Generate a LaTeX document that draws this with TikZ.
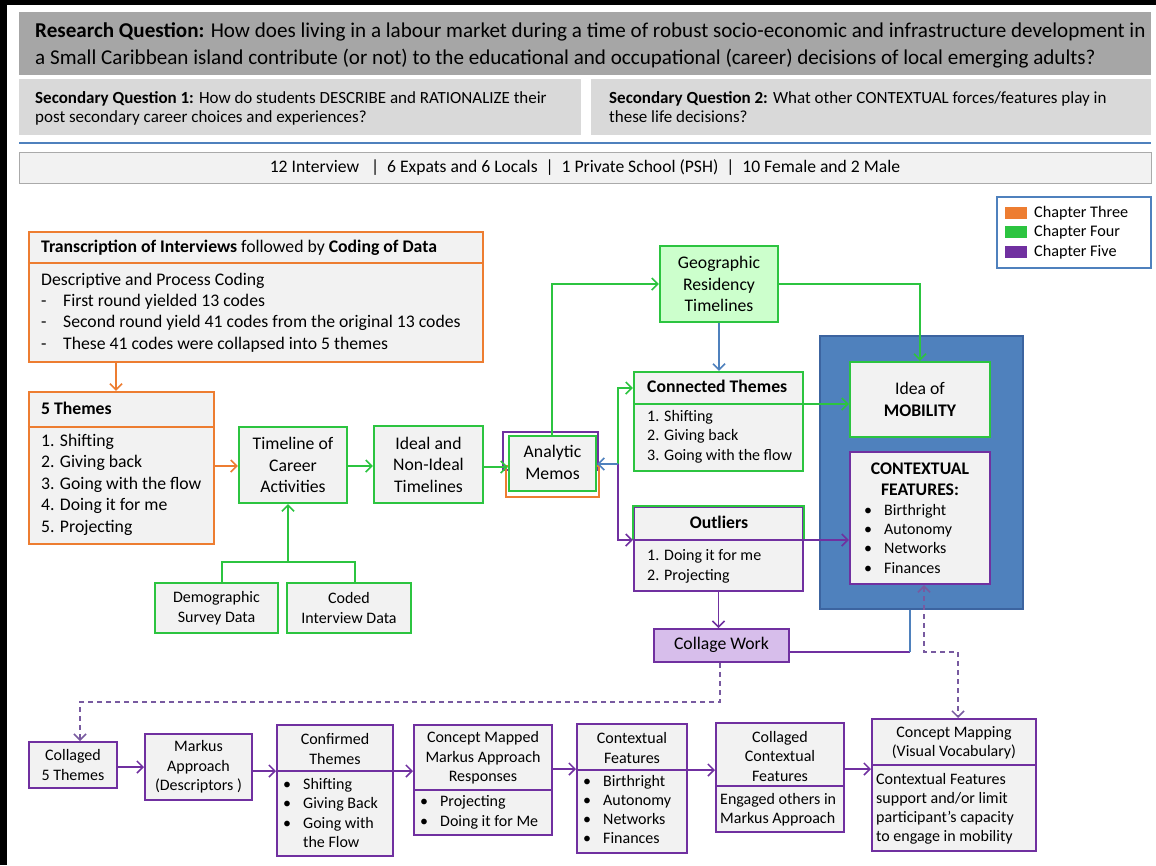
\documentclass[tikz,border=0pt]{standalone}
\usepackage{fontspec}
\setmainfont{Carlito}
\usetikzlibrary{arrows.meta,fit}

\definecolor{orangeC}{RGB}{237,125,49}
\definecolor{greenC}{RGB}{44,196,64}
\definecolor{purpleC}{RGB}{112,48,160}
\definecolor{mobBlue}{RGB}{79,129,189}
\definecolor{mobEdge}{RGB}{60,100,160}
\definecolor{lineBlue}{RGB}{79,129,189}
\definecolor{paleGrey}{RGB}{242,242,242}
\definecolor{rqGrey}{RGB}{166,166,166}
\definecolor{sqGrey}{RGB}{217,217,217}
\definecolor{statEdge}{RGB}{170,170,170}
\definecolor{paleGreen}{RGB}{204,255,204}
\definecolor{paleViolet}{RGB}{215,190,235}
\definecolor{dashViolet}{RGB}{120,90,160}

\newcommand\fsRQ{\fontsize{21.1}{27}\selectfont}
\newcommand\fsSQ{\fontsize{17}{19}\selectfont}
\newcommand\fsStat{\fontsize{17.6}{20}\selectfont}
\newcommand\fsBig{\fontsize{17.7}{21.5}\selectfont}
\newcommand\fsMid{\fontsize{16}{19.5}\selectfont}
\newcommand\fsLeg{\fontsize{16.2}{19}\selectfont}

\begin{document}
\begin{tikzpicture}[x=1pt,y=-1pt,
  box/.style={draw, line width=2.4pt, fill=paleGrey, inner sep=0pt},
  ch3/.style={box, draw=orangeC},
  ch4/.style={box, draw=greenC},
  ch5/.style={box, draw=purpleC, line width=2pt},
  band/.style={inner sep=0pt},
  ln/.style={anchor=west, inner sep=0pt, text height=0.9em, text depth=0.1em},
  cn/.style={ln, anchor=center},
  hd/.style={anchor=center, inner sep=0pt, align=center},
  link/.style={line width=1.5pt},
  arrowed/.style={-{Straight Barb[length=6pt,width=12pt]}},
  olink/.style={link, arrowed, draw=orangeC},
  glink/.style={link, arrowed, draw=greenC},
  plink/.style={link, arrowed, draw=purpleC},
  blink/.style={link, arrowed, draw=lineBlue},
  dlink/.style={link, draw=dashViolet, dash pattern=on 5pt off 4pt}
]
\useasboundingbox (0,0) rectangle (1156,865);
\fill[white] (0,0) rectangle (1156,865);
\fill[black] (0,0) rectangle (1156,5);
\fill[black] (0,0) rectangle (7,865);

% ---------- questions and sample ----------
\node[band, fill=rqGrey, fit={(19,12) (1151,75)}] (rq) {};
\node[ln, font=\fsRQ] (rq1) at (35,33) {\textbf{Research Question:} How does living in a labour market during a time of robust socio-economic and infrastructure development in};
\node[ln, font=\fsRQ] (rq2) at (35,60) {a Small Caribbean island contribute (or not) to the educational and occupational (career) decisions of local emerging adults?};

\node[band, fill=sqGrey, fit={(19,79) (581,135)}] (sq1) {};
\node[ln, font=\fsSQ] (sq1a) at (35,99) {\textbf{Secondary Question 1:} How do students DESCRIBE and RATIONALIZE their};
\node[ln, font=\fsSQ] (sq1b) at (35,118) {post secondary career choices and experiences?};

\node[band, fill=sqGrey, fit={(591,79) (1151,135)}] (sq2) {};
\node[ln, font=\fsSQ] (sq2a) at (609,99) {\textbf{Secondary Question 2:} What other CONTEXTUAL forces/features play in};
\node[ln, font=\fsSQ] (sq2b) at (609,118) {these life decisions?};

\draw[lineBlue, line width=1.2pt] (19,143) -- (1151,143);

\node[band, draw=statEdge, line width=1pt, fill=paleGrey, fit={(19,152) (1151,183)}] (stats) {};
\node[cn, font=\fsStat] (statstxt) at (585,168) {12 Interview\ \ \ |\ \ 6 Expats and 6 Locals\ \ |\ \ 1 Private School (PSH)\ \ |\ \ 10 Female and 2 Male};

% ---------- legend ----------
\node[band, draw=mobBlue, line width=1.2pt, fill=white, fit={(997,197) (1151,268)}] (legend) {};
\node[fill=orangeC, minimum width=22pt, minimum height=12pt, inner sep=0pt, anchor=west] (sw3) at (1005,213) {};
\node[fill=greenC, minimum width=22pt, minimum height=12pt, inner sep=0pt, anchor=west] (sw4) at (1005,232) {};
\node[fill=purpleC, minimum width=22pt, minimum height=12pt, inner sep=0pt, anchor=west] (sw5) at (1005,252) {};
\node[ln, font=\fsLeg] (lg3) at (1034,213) {Chapter Three};
\node[ln, font=\fsLeg] (lg4) at (1034,232) {Chapter Four};
\node[ln, font=\fsLeg] (lg5) at (1034,252) {Chapter Five};

% ---------- chapter three: coding ----------
\node[ch3, fit={(29,232) (483,362)}] (trans) {};
\draw[orangeC, line width=2.4pt] (trans.west |- 0,263) -- (trans.east |- 0,263);
\node[ln, font=\fsBig] (transhd) at (41,248) {\textbf{Transcription of Interviews} followed by \textbf{Coding of Data}};
\node[ln, font=\fsBig] (transb0) at (41,281) {Descriptive and Process Coding};
\foreach \t [count=\i] in {First round yielded 13 codes, Second round yield 41 codes from the original 13 codes, These 41 codes were collapsed into 5 themes} {
  \node[ln, font=\fsBig] (transd\i) at (41,{281+21.4*\i}) {-};
  \node[ln, font=\fsBig] (transb\i) at (63,{281+21.4*\i}) {\t};
}

\node[ch3, fit={(29,392) (214,544)}] (themes) {};
\draw[orangeC, line width=2.4pt] (themes.west |- 0,427) -- (themes.east |- 0,427);
\node[ln, font=\fsBig] (themeshd) at (41,410) {\textbf{5 Themes}};
\foreach \t [count=\i] in {1. Shifting, 2. Giving back, 3. Going with the flow, 4. Doing it for me, 5. Projecting} {
  \node[ln, font=\fsBig] (theme\i) at (41,{442+21.5*(\i-1)}) {\t};
}

% ---------- chapter four: timelines ----------
\node[ch4, fit={(239,427) (347,503)}] (timeline) {};
\node[hd, font=\fsBig] (timelinet) at (timeline.center) {Timeline of\\Career\\Activities};
\node[ch4, fit={(374,426) (483,503)}] (ideal) {};
\node[hd, font=\fsBig] (idealt) at (ideal.center) {Ideal and\\Non-Ideal\\Timelines};
\node[ch4, fit={(155,583) (278,633)}] (demo) {};
\node[hd, font=\fsMid] (demot) at (demo.center) {Demographic\\Survey Data};
\node[ch4, fit={(287,583) (411,633)}] (coded) {};
\node[hd, font=\fsMid] (codedt) at (coded.center) {Coded\\Interview Data};

\draw[purpleC, line width=2pt] (503,432) rectangle (598,470);
\draw[orangeC, line width=2pt] (506,466) rectangle (599,497);
\node[ch4, fit={(509,436) (596,491)}] (memos) {};
\node[hd, font=\fsBig] (memost) at ([yshift=1pt]memos.center) {Analytic\\Memos};

\node[ch4, fill=paleGreen, fit={(660,246) (778,322)}] (geo) {};
\node[hd, font=\fsBig] (geot) at (geo.center) {Geographic\\Residency\\Timelines};

\node[ch4, fit={(634,372) (803,471)}] (conn) {};
\draw[greenC, line width=2.4pt] (conn.west |- 0,404) -- (conn.east |- 0,404);
\node[ln, font=\fsBig] (connhd) at (647,388) {\textbf{Connected Themes}};
\foreach \t [count=\i] in {1. Shifting, 2. Giving back, 3. Going with the flow} {
  \node[ln, font=\fsMid] (conn\i) at (647,{417+19.5*(\i-1)}) {\t};
}

\node[ch5, line width=2.4pt, fit={(634,507) (803,591)}] (outl) {};
\draw[greenC, line width=2.4pt] (outl.west |- 0,540) |- (outl.north) -| (outl.east |- 0,540);
\draw[purpleC, line width=2.4pt] (outl.west |- 0,540) -- (outl.east |- 0,540);
\node[cn, font=\fsBig] (outlhd) at (719,524) {\textbf{Outliers}};
\node[ln, font=\fsMid] (outl1) at (647,556) {1. Doing it for me};
\node[ln, font=\fsMid] (outl2) at (647,576) {2. Projecting};

% ---------- mobility panel ----------
\node[band, fill=mobBlue, draw=mobEdge, line width=1.2pt, fit={(820,336) (1023,609)}] (mob) {};
\node[ch4, fit={(850,362) (990,437)}] (idea) {};
\node[hd, font=\fsBig] (ideat) at (idea.center) {Idea of\\\textbf{MOBILITY}};
\node[ch5, line width=2.4pt, fit={(850,452) (990,584)}] (ctx) {};
\node[cn, font=\fsBig] (ctxhd1) at (920,470) {\textbf{CONTEXTUAL}};
\node[cn, font=\fsBig] (ctxhd2) at (920,491) {\textbf{FEATURES:}};
\foreach \t [count=\i] in {Birthright, Autonomy, Networks, Finances} {
  \node[ln, font=\fsMid] (ctxb\i) at (864,{511+19.4*(\i-1)}) {\textbullet};
  \node[ln, font=\fsMid] (ctx\i) at (884,{511+19.4*(\i-1)}) {\t};
}

\node[ch5, fill=paleViolet, fit={(654,629) (789,662)}] (collage) {};
\node[cn, font=\fsBig] (collaget) at (collage.center) {Collage Work};

% ---------- chapter five: bottom row ----------
\node[ch5, fit={(29,742) (117,788)}] (cfive) {};
\node[hd, font=\fsMid] (cfivet) at (cfive.center) {Collaged\\5 Themes};
\node[ch5, fit={(145,734) (252,800)}] (markus) {};
\node[hd, font=\fsMid] (markust) at (markus.center) {Markus\\Approach\\(Descriptors )};

\node[ch5, fit={(277,725) (393,856)}] (confirmed) {};
\draw[purpleC, line width=2pt] (confirmed.west |- 0,771) -- (confirmed.east |- 0,771);
\node[hd, font=\fsMid] (confhd) at (335,749) {Confirmed\\Themes};
\foreach \t/\yy [count=\i] in {Shifting/785, Giving Back/804, Going with/824} {
  \node[ln, font=\fsMid] (confb\i) at (283,\yy) {\textbullet};
  \node[ln, font=\fsMid] (conf\i) at (303,\yy) {\t};
}
\node[ln, font=\fsMid] (conf4) at (303,843) {the Flow};

\node[ch5, fit={(414,725) (552,835)}] (cmm) {};
\draw[purpleC, line width=2pt] (cmm.west |- 0,790) -- (cmm.east |- 0,790);
\node[hd, font=\fsMid] (cmmhd) at (483,758) {Concept Mapped\\Markus Approach\\Responses};
\node[ln, font=\fsMid] (cmmb1) at (420,802) {\textbullet};
\node[ln, font=\fsMid] (cmm1) at (440,802) {Projecting};
\node[ln, font=\fsMid] (cmmb2) at (420,822) {\textbullet};
\node[ln, font=\fsMid] (cmm2) at (440,822) {Doing it for Me};

\node[ch5, fit={(577,724) (687,853)}] (cf) {};
\draw[purpleC, line width=2pt] (cf.west |- 0,770) -- (cf.east |- 0,770);
\node[hd, font=\fsMid] (cfhd) at (632,748) {Contextual\\Features};
\foreach \t [count=\i] in {Birthright, Autonomy, Networks, Finances} {
  \node[ln, font=\fsMid] (cfb\i) at (583,{782+19.3*(\i-1)}) {\textbullet};
  \node[ln, font=\fsMid] (cf\i) at (603,{782+19.3*(\i-1)}) {\t};
}

\node[ch5, fit={(716,723) (843.5,832)}] (ccf) {};
\draw[purpleC, line width=2pt] (ccf.west |- 0,786) -- (ccf.east |- 0,786);
\node[hd, font=\fsMid] (ccfhd) at (780,756) {Collaged\\Contextual\\Features};
\node[ln, font=\fsMid] (ccf1) at (720,800) {Engaged others in};
\node[ln, font=\fsMid] (ccf2) at (720,819) {Markus Approach};

\node[ch5, fit={(872,719) (1035.5,851)}] (cmap) {};
\draw[purpleC, line width=2pt] (cmap.west |- 0,765) -- (cmap.east |- 0,765);
\node[hd, font=\fsMid] (cmaphd) at (954,743) {Concept Mapping\\(Visual Vocabulary)};
\foreach \t [count=\i] in {Contextual Features, support and/or limit, participant’s capacity, to engage in mobility} {
  \node[ln, font=\fsMid] (cmapt\i) at (876,{780+19.3*(\i-1)}) {\t};
}

% ---------- connectors ----------
\draw[olink] (116,0 |- trans.south) -- (116,0 |- themes.north);
\draw[olink] (themes.east |- 0,466) -- (timeline.west |- 0,466);
\draw[glink] (timeline.east |- 0,466) -- (ideal.west |- 0,466);
\draw[glink] (ideal.east |- 0,467) -- (memos.west |- 0,467);

\coordinate (join) at (288,562);
\draw[link, greenC] (222,0 |- demo.north) |- (join) -| (355,0 |- coded.north);
\draw[glink] (join) -- (join |- timeline.south);

\draw[glink] (552,0 |- memos.north) |- (geo.west);
\draw[glink] (geo.east) -| (idea.north);
\draw[blink] (geo.south) -- (geo.south |- conn.north);
\draw[glink] (conn.east |- 0,404) -- (idea.west |- 0,404);

\coordinate (fork) at (618,464);
\draw[glink] (fork) |- (conn.west |- 0,388);
\draw[plink] (fork) |- (outl.west |- 0,540);
\draw[blink] (fork) -- (fork -| memos.east);

\draw[plink] (outl.east |- 0,540) -- (ctx.west |- 0,540);
\draw[plink] (outl.south) -- (outl.south |- collage.north);

\coordinate (elbow) at (910,652);
\draw[link, purpleC] (collage.east |- elbow) -- (elbow);
\draw[link, lineBlue] (elbow) -- (elbow |- mob.south);

\draw[dlink, arrowed] (720,0 |- collage.south) |- (80,702) -- (80,0 |- cfive.north);
\draw[dlink, {Straight Barb[length=6pt,width=12pt]}-{Straight Barb[length=6pt,width=12pt]}]
  (924,0 |- ctx.south) |- (958,652) -- (958,0 |- cmap.north);

\draw[plink] (cfive.east |- 0,767) -- (markus.west |- 0,767);
\draw[plink] (markus.east |- 0,771) -- (confirmed.west |- 0,771);
\draw[plink] (confirmed.east |- 0,771) -- (cmm.west |- 0,771);
\draw[plink] (cmm.east |- 0,769) -- (cf.west |- 0,769);
\draw[plink] (cf.east |- 0,770) -- (ccf.west |- 0,770);
\draw[plink] (ccf.east |- 0,769) -- (cmap.west |- 0,769);
\end{tikzpicture}
\end{document}
